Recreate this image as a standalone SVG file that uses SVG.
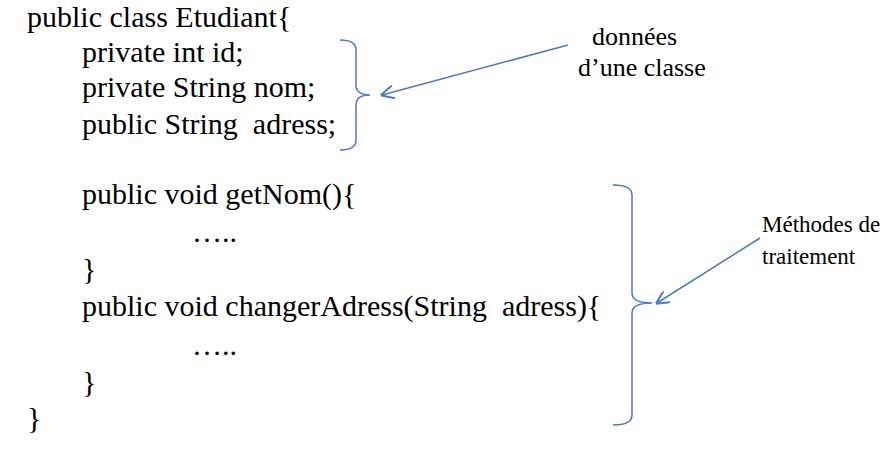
<svg xmlns="http://www.w3.org/2000/svg" width="884" height="464" viewBox="0 0 884 464" xml:space="preserve">
<defs>
<style>
.c{font-family:"Liberation Serif",serif;font-size:30px;fill:#000;white-space:pre}
.l{font-family:"Liberation Serif",serif;font-size:26px;fill:#000}
.m{font-family:"Liberation Serif",serif;font-size:23px;fill:#000}
.b{fill:none;stroke:#4a7abf;stroke-width:1.5}
</style>
<marker id="a" viewBox="0 0 10 10" refX="9" refY="5" markerWidth="9" markerHeight="9" orient="auto"><path d="M0,0 L10,5 L0,10" fill="none" stroke="#4a7abf" stroke-width="1.5"/></marker>
</defs>
<g id="code">
<text class="c" x="27" y="27">public class Etudiant{</text>
<text class="c" x="82" y="62">private int id;</text>
<text class="c" x="82" y="97">private String nom;</text>
<text class="c" x="82" y="134">public String  adress;</text>
<text class="c" x="82" y="204">public void getNom(){</text>
<text class="c" x="192" y="242">…..</text>
<text class="c" x="82" y="279">}</text>
<text class="c" x="82" y="316">public void changerAdress(String  adress){</text>
<text class="c" x="192" y="355">…..</text>
<text class="c" x="82" y="392">}</text>
<text class="c" x="27" y="428">}</text>
</g>
<g id="label1">
<text class="l" x="592" y="45">données</text>
<text class="l" x="578" y="76">d’une classe</text>
</g>
<g id="label2">
<text class="m" x="762" y="232">Méthodes de</text>
<text class="m" x="762" y="264">traitement</text>
</g>
<g id="connectors">
<path class="b" d="M340,40 Q356,40 356,50 L356,85 Q356,95 370,95 Q356,95 356,105 L356,140 Q356,150 340,150"/>
<path class="b" d="M613,185 Q632,185 632,195 L632,293 Q632,303 652,303 Q632,303 632,313 L632,415 Q632,425 613,425"/>
<line class="b" x1="568" y1="45" x2="382" y2="95" marker-end="url(#a)"/>
<line class="b" x1="760" y1="238" x2="657" y2="303" marker-end="url(#a)"/>
</g>
</svg>
